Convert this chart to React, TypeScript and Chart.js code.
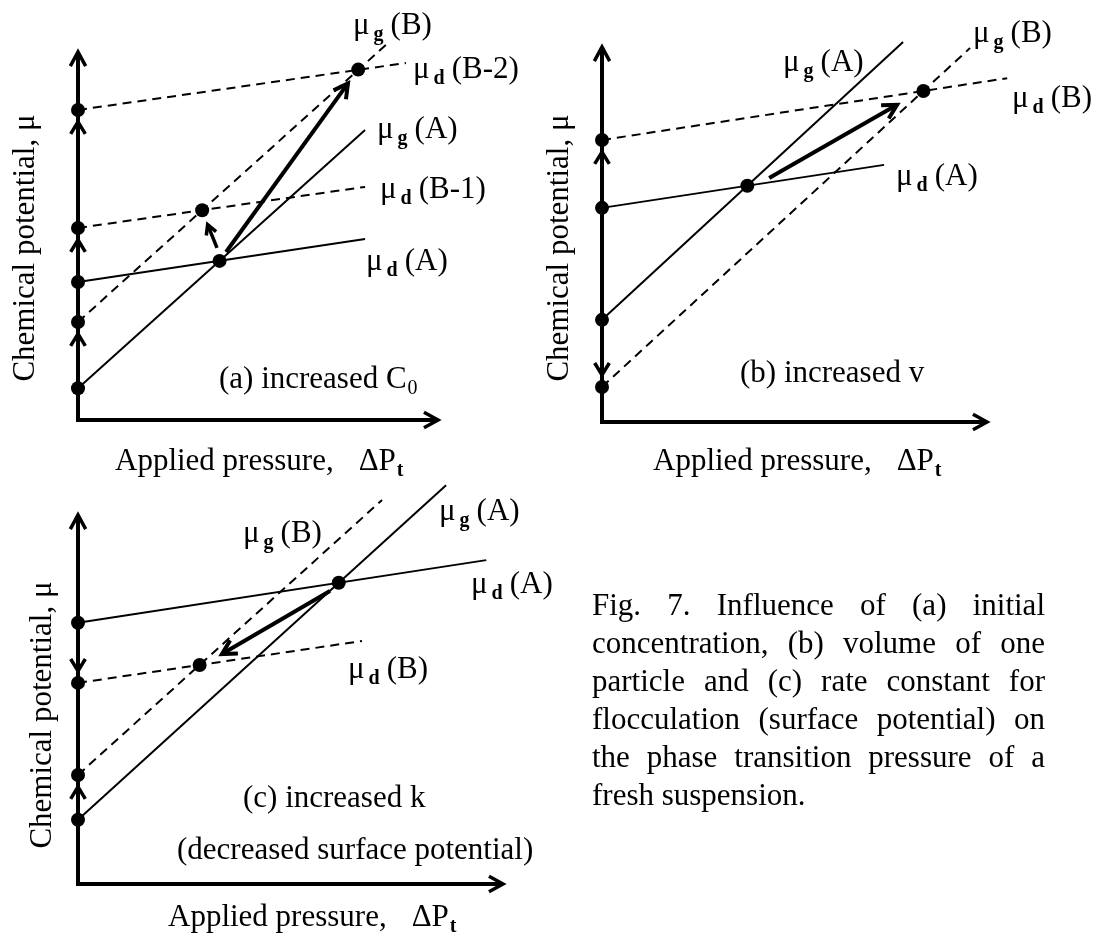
import React, { useEffect, useRef } from "react";
import { Chart, registerables } from "chart.js";

Chart.register(...registerables);

const W = 1096;
const H = 935;
const FONT = '"Liberation Serif", "Times New Roman", serif';

// ---------------- Panel (a): increased C0 ----------------
const aSeries = ["μg (A)", "μd (A)", "μg (B)", "μd (B-1)", "μd (B-2)"];
const aStartX = [0, 0, 0, 0, 0];
const aStartMu = [8.6, 37.3, 26.5, 51.9, 83.8];
const aEndX = [79.3, 79.3, 85.1, 79.3, 90.6];
const aEndMu = [78.4, 48.9, 101.4, 63.0, 96.5];
const aTransX = [39.1, 34.3, 77.4];
const aTransMu = [43.0, 56.7, 94.7];
const aArrowFromX = [40.9, 38.4];
const aArrowFromMu = [45.4, 46.5];
const aArrowToX = [74.9, 35.6];
const aArrowToMu = [91.4, 53.3];
const aShiftFrom = [8.6, 37.3, 51.9];
const aShiftTo = [26.5, 51.9, 83.8];

// ---------------- Panel (b): increased v ----------------
const bSeries = ["μg (A)", "μd (A)", "μg (B)", "μd (B)"];
const bStartX = [0, 0, 0, 0];
const bStartMu = [27.1, 56.8, 9.3, 74.8];
const bEndX = [77.8, 72.9, 95.1, 104.7];
const bEndMu = [100.8, 68.2, 99.2, 91.2];
const bTransX = [37.55, 83.05];
const bTransMu = [62.67, 87.81];
const bArrowFromX = [43.2];
const bArrowFromMu = [64.7];
const bArrowToX = [76.7];
const bArrowToMu = [84.4];
const bShiftFrom = [56.8, 27.1];
const bShiftTo = [74.8, 9.3];

// ---------------- Panel (c): increased k ----------------
const cSeries = ["μg (A)", "μd (A)", "μg (B)", "μd (B)"];
const cStartX = [0, 0, 0, 0];
const cStartMu = [17.3, 70.4, 29.4, 54.2];
const cEndX = [86.2, 95.6, 71.2, 66.5];
const cEndMu = [107.5, 87.3, 103.5, 65.5];
const cTransX = [61.06, 28.48];
const cTransMu = [81.19, 59.04];
const cArrowFromX = [59.0];
const cArrowFromMu = [79.0];
const cArrowToX = [33.3];
const cArrowToMu = [61.7];
const cShiftFrom = [70.4, 17.3];
const cShiftTo = [54.2, 29.4];

const captionLines = [
  "Fig. 7. Influence of (a) initial",
  "concentration, (b) volume of one",
  "particle and (c) rate constant for",
  "flocculation (surface potential) on",
  "the phase transition pressure of a",
  "fresh suspension.",
];

type Seg = { t: string; sub?: boolean; bold?: boolean; gap?: number };
type Label = { segs: Seg[]; x: number; y: number };

function mu(sub: string, rest: string): Seg[] {
  return [{ t: "μ" }, { t: sub, sub: true, bold: true, gap: 4 }, { t: rest, gap: 7 }];
}

type Panel = {
  id: string;
  box: { left: number; top: number; right: number; bottom: number };
  series: string[];
  startX: number[];
  startMu: number[];
  endX: number[];
  endMu: number[];
  transX: number[];
  transMu: number[];
  arrowFromX: number[];
  arrowFromMu: number[];
  arrowToX: number[];
  arrowToMu: number[];
  shiftFrom: number[];
  shiftTo: number[];
  labels: Label[];
  xTitle: { x: number; y: number };
  yTitle: { x: number; y: number };
};

const panels: Panel[] = [
  {
    id: "a",
    box: { left: 78, top: 50, right: 440, bottom: 420 },
    series: aSeries,
    startX: aStartX,
    startMu: aStartMu,
    endX: aEndX,
    endMu: aEndMu,
    transX: aTransX,
    transMu: aTransMu,
    arrowFromX: aArrowFromX,
    arrowFromMu: aArrowFromMu,
    arrowToX: aArrowToX,
    arrowToMu: aArrowToMu,
    shiftFrom: aShiftFrom,
    shiftTo: aShiftTo,
    labels: [
      { segs: mu("g", "(B)"), x: 353, y: 34 },
      { segs: mu("d", "(B-2)"), x: 413, y: 78 },
      { segs: mu("g", "(A)"), x: 377, y: 138 },
      { segs: mu("d", "(B-1)"), x: 380, y: 198 },
      { segs: mu("d", "(A)"), x: 366, y: 270 },
      { segs: [{ t: "(a) increased C" }, { t: "0", sub: true, gap: 1 }], x: 219, y: 388 },
    ],
    xTitle: { x: 115, y: 470 },
    yTitle: { x: 26, y: 248 },
  },
  {
    id: "b",
    box: { left: 602, top: 45, right: 989, bottom: 422 },
    series: bSeries,
    startX: bStartX,
    startMu: bStartMu,
    endX: bEndX,
    endMu: bEndMu,
    transX: bTransX,
    transMu: bTransMu,
    arrowFromX: bArrowFromX,
    arrowFromMu: bArrowFromMu,
    arrowToX: bArrowToX,
    arrowToMu: bArrowToMu,
    shiftFrom: bShiftFrom,
    shiftTo: bShiftTo,
    labels: [
      { segs: mu("g", "(A)"), x: 783, y: 71 },
      { segs: mu("g", "(B)"), x: 973, y: 42 },
      { segs: mu("d", "(B)"), x: 1012, y: 107 },
      { segs: mu("d", "(A)"), x: 896, y: 185 },
      { segs: [{ t: "(b) increased v" }], x: 740, y: 382 },
    ],
    xTitle: { x: 653, y: 470 },
    yTitle: { x: 560, y: 248 },
  },
  {
    id: "c",
    box: { left: 78, top: 513, right: 505, bottom: 884 },
    series: cSeries,
    startX: cStartX,
    startMu: cStartMu,
    endX: cEndX,
    endMu: cEndMu,
    transX: cTransX,
    transMu: cTransMu,
    arrowFromX: cArrowFromX,
    arrowFromMu: cArrowFromMu,
    arrowToX: cArrowToX,
    arrowToMu: cArrowToMu,
    shiftFrom: cShiftFrom,
    shiftTo: cShiftTo,
    labels: [
      { segs: mu("g", "(A)"), x: 439, y: 520 },
      { segs: mu("g", "(B)"), x: 243, y: 542 },
      { segs: mu("d", "(A)"), x: 471, y: 593 },
      { segs: mu("d", "(B)"), x: 348, y: 678 },
      { segs: [{ t: "(c) increased k" }], x: 243, y: 807 },
      { segs: [{ t: "(decreased surface potential)" }], x: 177, y: 859 },
    ],
    xTitle: { x: 168, y: 926 },
    yTitle: { x: 43, y: 715 },
  },
];

function drawRich(ctx: CanvasRenderingContext2D, x: number, y: number, segs: Seg[]) {
  let cx = x;
  ctx.textAlign = "left";
  ctx.textBaseline = "alphabetic";
  for (const s of segs) {
    cx += s.gap || 0;
    ctx.font = `${s.bold ? "bold " : ""}${s.sub ? 20 : 31}px ${FONT}`;
    ctx.fillText(s.t, cx, s.sub ? y + 6 : y);
    cx += ctx.measureText(s.t).width;
  }
}

function chevron(ctx: CanvasRenderingContext2D, x: number, y: number, a: number, len: number, ang: number, lw: number) {
  ctx.lineWidth = lw;
  ctx.lineJoin = "miter";
  ctx.lineCap = "butt";
  ctx.beginPath();
  ctx.moveTo(x - len * Math.cos(a - ang), y - len * Math.sin(a - ang));
  ctx.lineTo(x, y);
  ctx.lineTo(x - len * Math.cos(a + ang), y - len * Math.sin(a + ang));
  ctx.stroke();
}

function arrow(ctx: CanvasRenderingContext2D, x0: number, y0: number, x1: number, y1: number, lw: number, head: number) {
  const a = Math.atan2(y1 - y0, x1 - x0);
  ctx.lineWidth = lw;
  ctx.lineCap = "butt";
  ctx.beginPath();
  ctx.moveTo(x0, y0);
  ctx.lineTo(x1 - Math.cos(a) * 2, y1 - Math.sin(a) * 2);
  ctx.stroke();
  chevron(ctx, x1 - Math.cos(a) * 2, y1 - Math.sin(a) * 2, a, head, 0.5, lw);
}

function makePlugin(p: Panel) {
  return {
    id: "panel_" + p.id,
    beforeDatasetsDraw(chart: any) {
      const ctx: CanvasRenderingContext2D = chart.ctx;
      const { left, right, top, bottom } = chart.chartArea;
      ctx.save();
      ctx.strokeStyle = "#000";
      ctx.lineWidth = 4;
      ctx.beginPath();
      ctx.moveTo(left, bottom + 2);
      ctx.lineTo(left, top + 2);
      ctx.moveTo(left - 2, bottom);
      ctx.lineTo(right - 2, bottom);
      ctx.stroke();
      chevron(ctx, left, top + 2, -Math.PI / 2, 16, 0.5, 3.5);
      chevron(ctx, right - 2, bottom, 0, 16, 0.5, 3.5);
      ctx.restore();
    },
    afterDatasetsDraw(chart: any) {
      const ctx: CanvasRenderingContext2D = chart.ctx;
      const xs = chart.scales.x;
      const ys = chart.scales.y;
      ctx.save();
      ctx.strokeStyle = "#000";
      ctx.fillStyle = "#000";
      // shift indicators on the μ axis
      p.shiftFrom.forEach((f, i) => {
        const t = p.shiftTo[i];
        const up = t > f;
        const py = ys.getPixelForValue(t) + (up ? 12 : -12);
        chevron(ctx, xs.getPixelForValue(0), py, up ? -Math.PI / 2 : Math.PI / 2, 14, 0.55, 3.5);
      });
      // transition arrows
      p.arrowFromX.forEach((fx, i) => {
        const x0 = xs.getPixelForValue(fx);
        const y0 = ys.getPixelForValue(p.arrowFromMu[i]);
        const x1 = xs.getPixelForValue(p.arrowToX[i]);
        const y1 = ys.getPixelForValue(p.arrowToMu[i]);
        const len = Math.hypot(x1 - x0, y1 - y0);
        arrow(ctx, x0, y0, x1, y1, len < 50 ? 3.5 : 4, len < 50 ? 11 : 16);
      });
      // labels
      p.labels.forEach((l) => drawRich(ctx, l.x, l.y, l.segs));
      drawRich(ctx, p.xTitle.x, p.xTitle.y, [
        { t: "Applied pressure," },
        { t: "ΔP", gap: 25 },
        { t: "t", sub: true, bold: true, gap: 1 },
      ]);
      ctx.save();
      ctx.translate(p.yTitle.x, p.yTitle.y);
      ctx.rotate(-Math.PI / 2);
      ctx.font = `31px ${FONT}`;
      ctx.textAlign = "center";
      ctx.textBaseline = "middle";
      ctx.fillText("Chemical potential, μ", 0, 0);
      ctx.restore();
      ctx.restore();
    },
  };
}

function buildChart(canvas: HTMLCanvasElement, p: Panel) {
  const lineSets = p.series.map((name, i) => ({
    label: name,
    data: [
      { x: p.startX[i], y: p.startMu[i] },
      { x: p.endX[i], y: p.endMu[i] },
    ],
    showLine: true,
    borderColor: "#000",
    borderWidth: 2,
    borderDash: name.includes("(B") ? [9, 6] : [],
    pointRadius: 0,
    clip: false as const,
  }));
  const dots = {
    label: "states",
    data: [
      ...p.startX.map((x, i) => ({ x, y: p.startMu[i] })),
      ...p.transX.map((x, i) => ({ x, y: p.transMu[i] })),
    ],
    showLine: false,
    pointRadius: 7,
    pointBackgroundColor: "#000",
    pointBorderWidth: 0,
    borderColor: "#000",
    clip: false as const,
  };
  return new Chart(canvas, {
    type: "scatter",
    data: { datasets: [dots, ...lineSets] as any },
    options: {
      animation: false,
      responsive: false,
      maintainAspectRatio: false,
      devicePixelRatio: 1,
      events: [],
      layout: {
        padding: {
          left: p.box.left,
          top: p.box.top,
          right: W - p.box.right,
          bottom: H - p.box.bottom,
        },
      },
      scales: {
        x: { type: "linear", min: 0, max: 100, display: false },
        y: { type: "linear", min: 0, max: 100, display: false },
      },
      plugins: {
        legend: { display: false },
        tooltip: { enabled: false },
        title: { display: false },
      },
    },
    plugins: [makePlugin(p)],
  });
}

export default function App() {
  const refA = useRef<HTMLCanvasElement>(null);
  const refB = useRef<HTMLCanvasElement>(null);
  const refC = useRef<HTMLCanvasElement>(null);

  useEffect(() => {
    const refs = [refA, refB, refC];
    const charts = panels.map((p, i) => buildChart(refs[i].current as HTMLCanvasElement, p));
    return () => charts.forEach((c) => c.destroy());
  }, []);

  const cs: React.CSSProperties = { position: "absolute", left: 0, top: 0 };
  return (
    <div style={{ position: "absolute", left: 0, top: 0, width: W, height: H, background: "#fff", overflow: "hidden" }}>
      <canvas ref={refA} width={W} height={H} style={cs} />
      <canvas ref={refB} width={W} height={H} style={cs} />
      <canvas ref={refC} width={W} height={H} style={cs} />
      <div
        style={{
          position: "absolute",
          left: 592,
          top: 586,
          width: 453,
          fontFamily: FONT,
          fontSize: 31,
          lineHeight: "38px",
          color: "#000",
        }}
      >
        {captionLines.map((line, i) => (
          <div
            key={i}
            style={{
              textAlign: i === captionLines.length - 1 ? "left" : "justify",
              textAlignLast: i === captionLines.length - 1 ? "left" : "justify",
            }}
          >
            {line}
          </div>
        ))}
      </div>
    </div>
  );
}
